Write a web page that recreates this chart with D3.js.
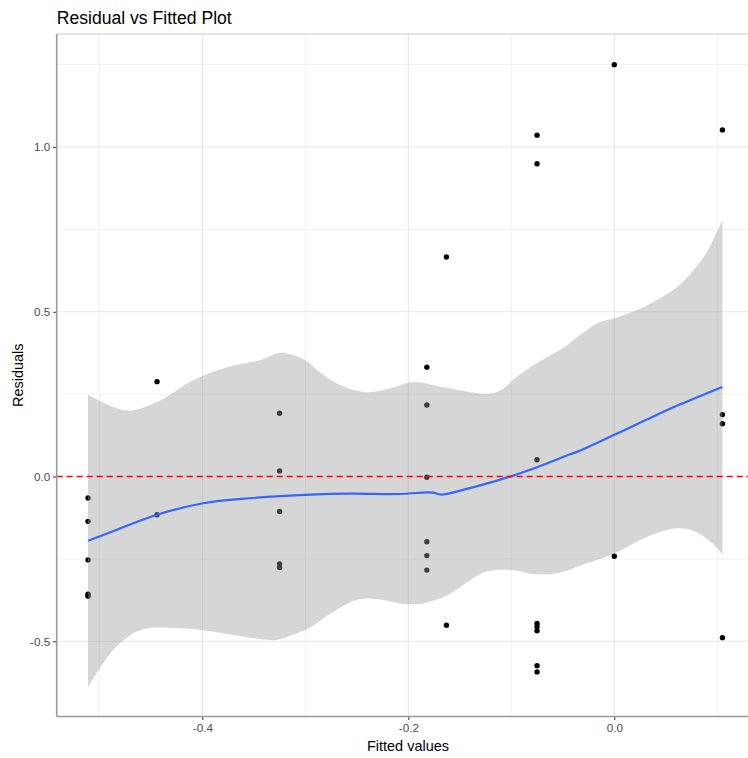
<!DOCTYPE html>
<html>
<head>
<meta charset="utf-8">
<script src="https://cdn.jsdelivr.net/npm/d3@7"></script>
<style>
  html, body { margin: 0; padding: 0; background: #fff; }
  svg { display: block; font-family: "Liberation Sans", Arial, sans-serif; }
</style>
</head>
<body>
<svg id="chart" width="748" height="758"></svg>
<script>
// ---- data ----
const title = "Residual vs Fitted Plot";
const xLabel = "Fitted values";
const yLabel = "Residuals";

const fitted = [
  -0.511, -0.511, -0.511, -0.511, -0.511,
  -0.444, -0.444,
  -0.325, -0.325, -0.325, -0.325, -0.325,
  -0.182, -0.182, -0.182, -0.182, -0.182, -0.182,
  -0.163, -0.163,
  -0.075, -0.075, -0.075, -0.075, -0.075, -0.075, -0.075, -0.075,
  0.0, 0.0,
  0.105, 0.105, 0.105, 0.105
];
const residuals = [
  -0.065, -0.136, -0.253, -0.357, -0.363,
  0.288, -0.116,
  0.192, 0.017, -0.106, -0.265, -0.276,
  0.332, 0.217, -0.002, -0.198, -0.240, -0.284,
  0.666, -0.451,
  1.036, 0.949, 0.051, -0.446, -0.456, -0.468, -0.574, -0.593,
  1.250, -0.242,
  1.052, 0.188, 0.160, -0.489
];

// loess smooth line
const smoothX = [-0.511, -0.490, -0.444, -0.399, -0.354, -0.295, -0.257, -0.208, -0.182, -0.176, -0.168, -0.160, -0.127, -0.100, -0.075, -0.046, -0.033, -0.001, 0.031, 0.064, 0.105];
const smoothY = [-0.195, -0.170, -0.116, -0.081, -0.066, -0.055, -0.052, -0.053, -0.048, -0.049, -0.055, -0.051, -0.024, 0.001, 0.028, 0.064, 0.079, 0.125, 0.172, 0.219, 0.272];

// confidence band, upper edge
const bandUpperX = [-0.511, -0.473, -0.441, -0.409, -0.376, -0.344, -0.325, -0.315, -0.300, -0.286, -0.266, -0.240, -0.218, -0.195, -0.166, -0.124, -0.111, -0.095, -0.079, -0.062, -0.046, -0.033, -0.014, -0.001, 0.022, 0.044, 0.061, 0.077, 0.090, 0.099, 0.105];
const bandUpperY = [0.248, 0.200, 0.231, 0.292, 0.332, 0.353, 0.375, 0.371, 0.353, 0.317, 0.277, 0.256, 0.267, 0.287, 0.271, 0.251, 0.261, 0.302, 0.337, 0.368, 0.398, 0.430, 0.469, 0.479, 0.505, 0.540, 0.575, 0.626, 0.682, 0.738, 0.778];

// confidence band, lower edge
const bandLowerX = [-0.511, -0.490, -0.473, -0.457, -0.441, -0.409, -0.376, -0.344, -0.328, -0.315, -0.298, -0.276, -0.250, -0.231, -0.208, -0.189, -0.176, -0.160, -0.143, -0.127, -0.111, -0.095, -0.079, -0.062, -0.046, -0.033, -0.001, 0.031, 0.061, 0.080, 0.096, 0.105];
const bandLowerY = [-0.640, -0.539, -0.488, -0.463, -0.458, -0.463, -0.478, -0.493, -0.496, -0.483, -0.463, -0.417, -0.374, -0.372, -0.385, -0.387, -0.377, -0.357, -0.321, -0.291, -0.283, -0.286, -0.296, -0.296, -0.286, -0.270, -0.235, -0.184, -0.157, -0.169, -0.205, -0.237];

const xMajorTicks = [-0.4, -0.2, 0.0];
const xMinorTicks = [-0.5, -0.3, -0.1, 0.1];
const yMajorTicks = [-0.5, 0.0, 0.5, 1.0];
const yMinorTicks = [-0.25, 0.25, 0.75, 1.25];
const refLine = 0;

// ---- layout ----
const svg = d3.select("#chart");
const panel = { left: 56.7, right: 749.4, top: 34, bottom: 716.5 };

const x = d3.scaleLinear().domain([-0.5414, 0.1312]).range([panel.left, panel.right]);
const y = d3.scaleLinear().domain([-0.7283, 1.343]).range([panel.bottom, panel.top]);

const g = svg.append("g");

// grid
g.selectAll(".xminor").data(xMinorTicks).join("line")
  .attr("x1", d => x(d)).attr("x2", d => x(d))
  .attr("y1", panel.top).attr("y2", panel.bottom)
  .attr("stroke", "#f0f0f0").attr("stroke-width", 1);
g.selectAll(".yminor").data(yMinorTicks).join("line")
  .attr("y1", d => y(d)).attr("y2", d => y(d))
  .attr("x1", panel.left).attr("x2", panel.right)
  .attr("stroke", "#f0f0f0").attr("stroke-width", 1);
g.selectAll(".xmajor").data(xMajorTicks).join("line")
  .attr("x1", d => x(d)).attr("x2", d => x(d))
  .attr("y1", panel.top).attr("y2", panel.bottom)
  .attr("stroke", "#e6e6e6").attr("stroke-width", 1.2);
g.selectAll(".ymajor").data(yMajorTicks).join("line")
  .attr("y1", d => y(d)).attr("y2", d => y(d))
  .attr("x1", panel.left).attr("x2", panel.right)
  .attr("stroke", "#e6e6e6").attr("stroke-width", 1.2);

// top border
g.append("line")
  .attr("x1", panel.left).attr("x2", panel.right)
  .attr("y1", panel.top).attr("y2", panel.top)
  .attr("stroke", "#dcdcdc").attr("stroke-width", 1.5);

// points
const pts = fitted.map((f, i) => ({ f, r: residuals[i] }));
g.selectAll(".pt").data(pts).join("circle")
  .attr("cx", d => x(d.f)).attr("cy", d => y(d.r)).attr("r", 2.7)
  .attr("fill", "#000");

// ribbon
const up = bandUpperX.map((v, i) => [x(v), y(bandUpperY[i])]);
const lo = bandLowerX.map((v, i) => [x(v), y(bandLowerY[i])]).reverse();
const lineGen = d3.line().curve(d3.curveCatmullRom.alpha(0.5));
const ribbonPath = lineGen(up) + "L" + lineGen(lo).slice(1) + "Z";
g.append("path").attr("d", ribbonPath)
  .attr("fill", "#999999").attr("fill-opacity", 0.4).attr("stroke", "none");

// smooth line
const sm = smoothX.map((v, i) => [x(v), y(smoothY[i])]);
g.append("path").attr("d", lineGen(sm))
  .attr("fill", "none").attr("stroke", "#3366FF").attr("stroke-width", 2.2);

// reference line
g.append("line")
  .attr("x1", panel.left).attr("x2", panel.right)
  .attr("y1", y(refLine)).attr("y2", y(refLine))
  .attr("stroke", "#FF0000").attr("stroke-width", 1.4)
  .attr("stroke-dasharray", "6,4");

// axes
const xAxis = d3.axisBottom(x).tickValues(xMajorTicks).tickFormat(d3.format(".1f")).tickSize(3.5).tickPadding(4);
const yAxis = d3.axisLeft(y).tickValues(yMajorTicks).tickFormat(d3.format(".1f")).tickSize(3.5).tickPadding(3);

const xa = svg.append("g").attr("transform", `translate(0,${panel.bottom})`).call(xAxis);
const ya = svg.append("g").attr("transform", `translate(${panel.left},0)`).call(yAxis);
[xa, ya].forEach(a => {
  a.select(".domain").remove();
  a.selectAll(".tick line").attr("stroke", "#333333").attr("stroke-width", 1);
  a.selectAll(".tick text").attr("fill", "#4d4d4d").style("font-size", "11.7px")
    .style("font-family", "'Liberation Sans', Arial, sans-serif");
});
xa.selectAll(".tick text").text(d => d3.format(".1f")(d).replace("−", "-"));
ya.selectAll(".tick text").text(d => d3.format(".1f")(d).replace("−", "-"));

// axis lines
svg.append("line")
  .attr("x1", panel.left).attr("x2", panel.left)
  .attr("y1", panel.top).attr("y2", panel.bottom)
  .attr("stroke", "#9a9a9a").attr("stroke-width", 1.6);
svg.append("line")
  .attr("x1", panel.left).attr("x2", panel.right)
  .attr("y1", panel.bottom).attr("y2", panel.bottom)
  .attr("stroke", "#9a9a9a").attr("stroke-width", 1.6);

// titles
svg.append("text").attr("x", panel.left).attr("y", 24)
  .attr("fill", "#000").style("font-size", "17.6px").text(title);
svg.append("text").attr("x", 408).attr("y", 751)
  .attr("text-anchor", "middle").attr("fill", "#000").style("font-size", "14.5px").text(xLabel);
svg.append("text")
  .attr("transform", `translate(23,${(panel.top + panel.bottom) / 2}) rotate(-90)`)
  .attr("text-anchor", "middle").attr("fill", "#000").style("font-size", "14.5px").text(yLabel);
</script>
</body>
</html>
